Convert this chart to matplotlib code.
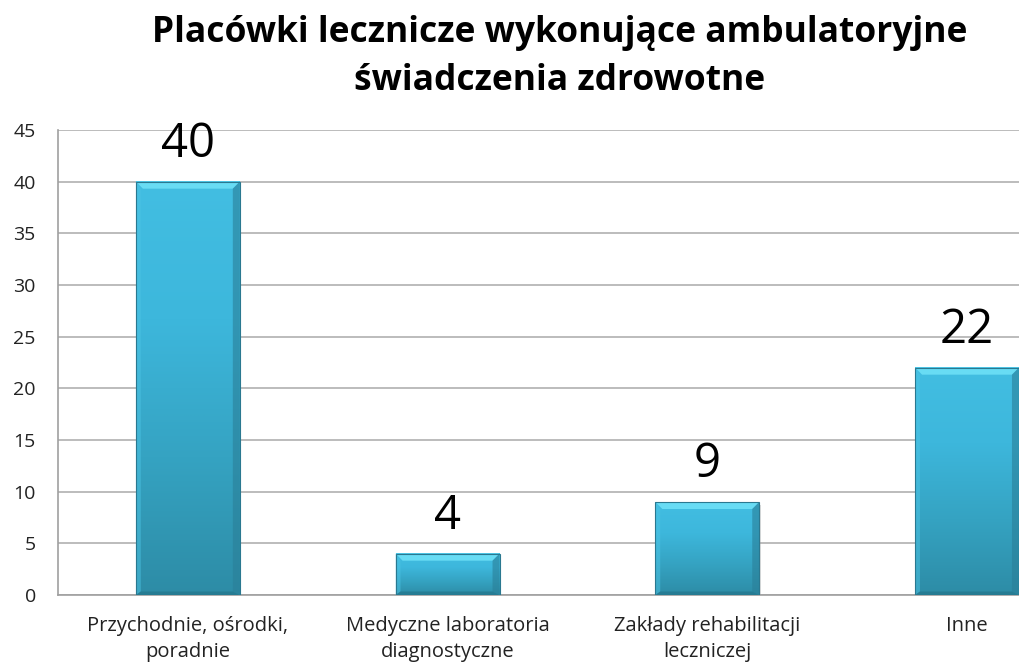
import matplotlib
matplotlib.use("Agg")
import matplotlib.pyplot as plt
import numpy as np
from matplotlib.colors import LinearSegmentedColormap
from matplotlib.patches import Polygon, Rectangle

categories = ["Przychodnie, ośrodki,\nporadnie", "Medyczne laboratoria\ndiagnostyczne",
              "Zakłady rehabilitacji\nleczniczej", "Inne"]
values = [40, 4, 9, 22]
yticks = [0, 5, 10, 15, 20, 25, 30, 35, 40, 45]
title = "Placówki lecznicze wykonujące ambulatoryjne\nświadczenia zdrowotne"

plt.rcParams['font.family'] = ['Open Sans', 'DejaVu Sans']

fig = plt.figure(figsize=(10.2, 6.62), dpi=100)
ax = fig.add_axes([58/1020, 1 - 595/662, 1 - 58/1020, (595-130)/662])

x = np.arange(len(values))
w = 0.4
ax.set_xlim(-0.5, 3.204)
ax.set_ylim(0, 45)

cmap = LinearSegmentedColormap.from_list("bar", ["#2D8CA6", "#35A3C2", "#3DB7DC", "#42BEE2"])
grad = np.linspace(0, 1, 256).reshape(-1, 1)

bx = 7 / 260
by = 7 / 10.33

for xi, v in zip(x, values):
    x0, x1 = xi - w/2, xi + w/2
    ax.add_patch(Rectangle((x0 + 0.006, -0.3), w, v, facecolor="#9a9a9a", alpha=0.35,
                           edgecolor="none", zorder=2.5))
    ax.imshow(grad, extent=(x0, x1, 0, v), origin="lower", cmap=cmap,
              aspect="auto", zorder=3, interpolation="bicubic")
    ax.add_patch(Polygon([(x0, v), (x1, v), (x1 - bx, v - by), (x0 + bx, v - by)],
                         closed=True, facecolor="#68DCF4", edgecolor="none", zorder=4))
    ax.add_patch(Polygon([(x1, v), (x1, 0), (x1 - bx, by*0.5), (x1 - bx, v - by)],
                         closed=True, facecolor="#2A7F98", edgecolor="none", alpha=0.6, zorder=4))
    ax.add_patch(Polygon([(x0, v), (x0, 0), (x0 + bx*0.7, by*0.5), (x0 + bx*0.7, v - by)],
                         closed=True, facecolor="#4CC4E4", edgecolor="none", alpha=0.5, zorder=4))
    ax.add_patch(Polygon([(x0, 0), (x1, 0), (x1 - bx, by*0.5), (x0 + bx*0.7, by*0.5)],
                         closed=True, facecolor="#24768C", edgecolor="none", alpha=0.7, zorder=4))
    ax.add_patch(Rectangle((x0, 0), w, v, facecolor="none", edgecolor="#2A7890",
                           linewidth=0.8, zorder=5))
    ax.annotate(str(v), (xi, v), xytext=(0, 10), textcoords="offset points",
                ha="center", va="bottom", fontsize=34, color="black", zorder=6)

ax.set_yticks(yticks)
ax.set_yticklabels([str(t) for t in yticks], fontsize=14)
ax.set_xticks(x)
ax.set_xticklabels(categories, fontsize=14.5, color="#222222",
                   multialignment="center", linespacing=1.4)
ax.tick_params(axis="y", length=0, pad=16, colors="#222222")
ax.tick_params(axis="x", length=0, pad=15)
ax.grid(axis="y", color="#B0B0B0", linewidth=1.2, zorder=1)
ax.set_axisbelow(True)
for s in ["top", "right"]:
    ax.spines[s].set_visible(False)
for s in ["left", "bottom"]:
    ax.spines[s].set_color("#A0A0A0")
    ax.spines[s].set_linewidth(1.2)

fig.text(560/1020, 1 - 57/662, title, ha="center", va="center", fontsize=25.5,
         fontweight="bold", linespacing=1.45)

fig.savefig("out.png", dpi=100)
